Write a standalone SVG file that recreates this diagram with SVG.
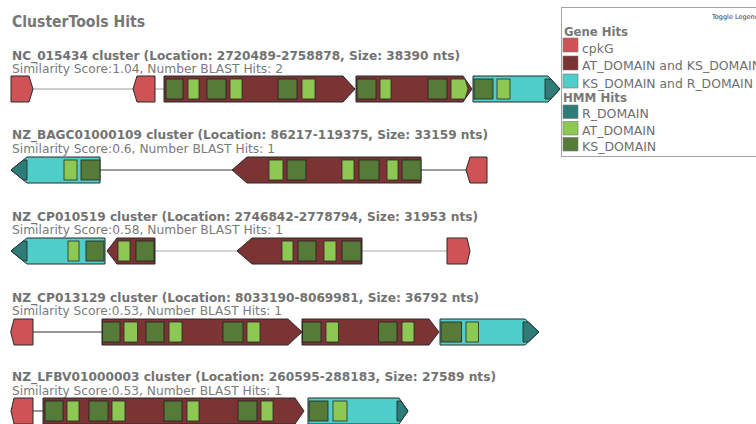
<svg xmlns="http://www.w3.org/2000/svg" width="756" height="424" viewBox="0 0 756 424">
  <style>
    text { font-family: "DejaVu Sans", Verdana, sans-serif; }
    .h1 { font-size: 15px; font-weight: bold; fill: #767676; }
    .title { font-size: 12.5px; font-weight: bold; fill: #727272; }
    .sub { font-size: 12.5px; fill: #7a7a7a; }
    .lgh { font-size: 12px; font-weight: bold; fill: #787878; }
    .lgt { font-size: 12.5px; fill: #6e6e6e; }
    .tog { font-size: 6.5px; fill: #333; }
    .gene { stroke: #2b2b2b; stroke-width: 1; }
    .cpk { fill: #cf5254; }
    .atks { fill: #7b3334; }
    .ksr { fill: #4fcdc9; }
    .R { fill: #2e7b78; stroke: #222; stroke-width: 0.8; }
    .AT { fill: #8dc853; stroke: #2a2a2a; stroke-width: 0.8; }
    .KS { fill: #567b38; stroke: #222; stroke-width: 0.8; }
    .link { fill: none; stroke-width: 1; }
    .sw { stroke: #777; stroke-width: 0.6; }
  </style>

  <rect width="756" height="424" fill="#ffffff"/>

  <text class="h1" x="12" y="27" textLength="133" lengthAdjust="spacingAndGlyphs">ClusterTools Hits</text>

  <!-- cluster headers -->
  <g id="headers">
    <text class="title" x="12" y="59.5" textLength="448" lengthAdjust="spacingAndGlyphs">NC_015434 cluster (Location: 2720489-2758878, Size: 38390 nts)</text>
    <text class="sub" x="12" y="73" textLength="271" lengthAdjust="spacingAndGlyphs">Similarity Score:1.04, Number BLAST Hits: 2</text>
    <text class="title" x="12" y="139.3" textLength="476" lengthAdjust="spacingAndGlyphs">NZ_BAGC01000109 cluster (Location: 86217-119375, Size: 33159 nts)</text>
    <text class="sub" x="12" y="153" textLength="263" lengthAdjust="spacingAndGlyphs">Similarity Score:0.6, Number BLAST Hits: 1</text>
    <text class="title" x="12" y="220.5" textLength="466" lengthAdjust="spacingAndGlyphs">NZ_CP010519 cluster (Location: 2746842-2778794, Size: 31953 nts)</text>
    <text class="sub" x="12" y="234" textLength="271" lengthAdjust="spacingAndGlyphs">Similarity Score:0.58, Number BLAST Hits: 1</text>
    <text class="title" x="12" y="301.5" textLength="467" lengthAdjust="spacingAndGlyphs">NZ_CP013129 cluster (Location: 8033190-8069981, Size: 36792 nts)</text>
    <text class="sub" x="12" y="315" textLength="270" lengthAdjust="spacingAndGlyphs">Similarity Score:0.53, Number BLAST Hits: 1</text>
    <text class="title" x="12" y="381" textLength="484" lengthAdjust="spacingAndGlyphs">NZ_LFBV01000003 cluster (Location: 260595-288183, Size: 27589 nts)</text>
    <text class="sub" x="12" y="395" textLength="270" lengthAdjust="spacingAndGlyphs">Similarity Score:0.53, Number BLAST Hits: 1</text>
  </g>

  <!-- intergenic connectors -->
  <g id="connectors" class="link">
    <line x1="33" y1="89" x2="134" y2="89" stroke="#9a9a9a"/>
    <line x1="155" y1="89" x2="164" y2="89" stroke="#9a9a9a"/>
    <line x1="100" y1="170" x2="232" y2="170" stroke="#3a3a3a"/>
    <line x1="421" y1="170" x2="466" y2="170" stroke="#3a3a3a"/>
    <line x1="155" y1="251" x2="237" y2="251" stroke="#a8a8a8"/>
    <line x1="362" y1="251" x2="447" y2="251" stroke="#a8a8a8"/>
    <line x1="33" y1="332" x2="102" y2="332" stroke="#2e2e2e"/>
    <line x1="33" y1="411" x2="43" y2="411" stroke="#2e2e2e"/>
  </g>

  <!-- row 1 -->
  <g id="r1g1"><polygon class="gene cpk" points="11,76 29,76 33,89 29,102 11,102"/></g>
  <g id="r1g2"><polygon class="gene cpk" points="133,89 137,76 155,76 155,102 137,102"/></g>
  <g id="r1g3">
    <polygon class="gene atks" points="164,76 343,76 355,89 343,102 164,102"/>
    <rect class="KS" x="166" y="79" width="17" height="20"/>
    <rect class="AT" x="188" y="79" width="11" height="20"/>
    <rect class="KS" x="207" y="79" width="19" height="20"/>
    <rect class="AT" x="230" y="79" width="12" height="20"/>
    <rect class="KS" x="278" y="79" width="19" height="20"/>
    <rect class="AT" x="302" y="79" width="13" height="20"/>
  </g>
  <g id="r1g4">
    <polygon class="gene atks" points="356,76 463,76 472,89 463,102 356,102"/>
    <rect class="KS" x="357" y="79" width="19" height="20"/>
    <rect class="AT" x="380" y="79" width="11" height="20"/>
    <rect class="KS" x="428" y="79" width="19" height="20"/>
    <polygon class="AT" points="451,79 465,79 468,89 465,99 451,99"/>
  </g>
  <g id="r1g5">
    <polygon class="gene ksr" points="473,76 548,76 560,89 548,102 473,102"/>
    <rect class="KS" x="474" y="79" width="19" height="20"/>
    <rect class="AT" x="497" y="79" width="13" height="20"/>
    <polygon class="R" points="545,79 550.8,79 560,89 550.8,99 545,99"/>
  </g>

  <!-- row 2 -->
  <g id="r2g1">
    <polygon class="gene ksr" points="11,170 27,157 100,157 100,183 27,183"/>
    <polygon class="R" points="11,170 23.3,160 27,160 27,180 23.3,180"/>
    <rect class="AT" x="64" y="160" width="13" height="20"/>
    <rect class="KS" x="81" y="160" width="19" height="20"/>
  </g>
  <g id="r2g2">
    <polygon class="gene atks" points="232,170 247,157 421,157 421,183 247,183"/>
    <rect class="AT" x="269" y="160" width="14" height="20"/>
    <rect class="KS" x="287" y="160" width="19" height="20"/>
    <rect class="AT" x="342" y="160" width="12" height="20"/>
    <rect class="KS" x="359" y="160" width="20" height="20"/>
    <rect class="AT" x="387" y="160" width="11" height="20"/>
    <rect class="KS" x="402" y="160" width="19" height="20"/>
  </g>
  <g id="r2g3"><polygon class="gene cpk" points="466,170 470,157 487,157 487,183 470,183"/></g>

  <!-- row 3 -->
  <g id="r3g1">
    <polygon class="gene ksr" points="11,251 27,238 105,238 105,264 27,264"/>
    <polygon class="R" points="11,251 23.3,241 27,241 27,261 23.3,261"/>
    <rect class="AT" x="68" y="241" width="11" height="20"/>
    <rect class="KS" x="86" y="241" width="18" height="20"/>
  </g>
  <g id="r3g2">
    <polygon class="gene atks" points="107,251 117,238 155,238 155,264 117,264"/>
    <rect class="AT" x="118" y="241" width="12" height="20"/>
    <rect class="KS" x="136" y="241" width="18" height="20"/>
  </g>
  <g id="r3g3">
    <polygon class="gene atks" points="237,251 252,238 362,238 362,264 252,264"/>
    <rect class="AT" x="282" y="241" width="11" height="20"/>
    <rect class="KS" x="298" y="241" width="18" height="20"/>
    <rect class="AT" x="324" y="241" width="12" height="20"/>
    <rect class="KS" x="342" y="241" width="19" height="20"/>
  </g>
  <g id="r3g4"><polygon class="gene cpk" points="447,238 467,238 470,251 467,264 447,264"/></g>

  <!-- row 4 -->
  <g id="r4g1"><polygon class="gene cpk" points="10.7,332 14,319 33,319 33,345 14,345"/></g>
  <g id="r4g2">
    <polygon class="gene atks" points="102,319 288,319 302,332 288,345 102,345"/>
    <rect class="KS" x="102.5" y="322" width="17.5" height="20"/>
    <rect class="AT" x="124" y="322" width="13.5" height="20"/>
    <rect class="KS" x="146" y="322" width="18" height="20"/>
    <rect class="AT" x="169" y="322" width="13" height="20"/>
    <rect class="KS" x="223" y="322" width="20" height="20"/>
    <rect class="AT" x="247" y="322" width="13" height="20"/>
  </g>
  <g id="r4g3">
    <polygon class="gene atks" points="302,319 429,319 439,332 429,345 302,345"/>
    <rect class="KS" x="302.5" y="322" width="18.5" height="20"/>
    <rect class="AT" x="326" y="322" width="12.6" height="20"/>
    <rect class="KS" x="378.6" y="322" width="18.4" height="20"/>
    <rect class="AT" x="402" y="322" width="12" height="20"/>
  </g>
  <g id="r4g4">
    <polygon class="gene ksr" points="440,319 525,319 539,332 525,345 440,345"/>
    <rect class="KS" x="441" y="322" width="20.4" height="20"/>
    <rect class="AT" x="466" y="322" width="12.6" height="20"/>
    <polygon class="R" points="523,322 528.2,322 539,332 528.2,342 523,342"/>
  </g>

  <!-- row 5 -->
  <g id="r5g1"><polygon class="gene cpk" points="11,411 14,398 33,398 33,424 14,424"/></g>
  <g id="r5g2">
    <polygon class="gene atks" points="43,398 295,398 304,411 295,424 43,424"/>
    <rect class="KS" x="45" y="401" width="18" height="20"/>
    <rect class="AT" x="67" y="401" width="12" height="20"/>
    <rect class="KS" x="89" y="401" width="19" height="20"/>
    <rect class="AT" x="112" y="401" width="13" height="20"/>
    <rect class="KS" x="164" y="401" width="18" height="20"/>
    <rect class="AT" x="187" y="401" width="12" height="20"/>
    <rect class="KS" x="238" y="401" width="19" height="20"/>
    <rect class="AT" x="261" y="401" width="12" height="20"/>
  </g>
  <g id="r5g3">
    <polygon class="gene ksr" points="308,398 399,398 408,411 399,424 308,424"/>
    <rect class="KS" x="309" y="401" width="19" height="20"/>
    <rect class="AT" x="333" y="401" width="14" height="20"/>
    <polygon class="R" points="397,401 401.1,401 408,411 401.1,421 397,421"/>
  </g>

  <!-- legend panel -->
  <g id="legend">
    <rect x="561.5" y="7.5" width="210" height="149" fill="#ffffff" stroke="#a3a3a3" stroke-width="1"/>
    <text class="tog" x="712" y="19">Toggle Legend</text>
    <text class="lgh" x="564" y="35.5" textLength="64" lengthAdjust="spacingAndGlyphs">Gene Hits</text>
    <rect class="sw cpk" x="563" y="38" width="15" height="14"/>
    <text class="lgt" x="582" y="52.5">cpkG</text>
    <rect class="sw atks" x="563" y="56" width="15" height="14"/>
    <text class="lgt" x="582" y="70">AT_DOMAIN and KS_DOMAIN</text>
    <rect class="sw ksr" x="563" y="74" width="15" height="14"/>
    <text class="lgt" x="582" y="87.5" textLength="171" lengthAdjust="spacingAndGlyphs">KS_DOMAIN and R_DOMAIN</text>
    <text class="lgh" x="563" y="101.5" textLength="64" lengthAdjust="spacingAndGlyphs">HMM Hits</text>
    <rect class="sw" x="563" y="105" width="15" height="13.5" fill="#2e7b78"/>
    <text class="lgt" x="582" y="118">R_DOMAIN</text>
    <rect class="sw" x="563" y="121.5" width="15" height="13.5" fill="#8dc853"/>
    <text class="lgt" x="582" y="134.5">AT_DOMAIN</text>
    <rect class="sw" x="563" y="137.5" width="15" height="13.5" fill="#567b38"/>
    <text class="lgt" x="582" y="151">KS_DOMAIN</text>
  </g>
</svg>
